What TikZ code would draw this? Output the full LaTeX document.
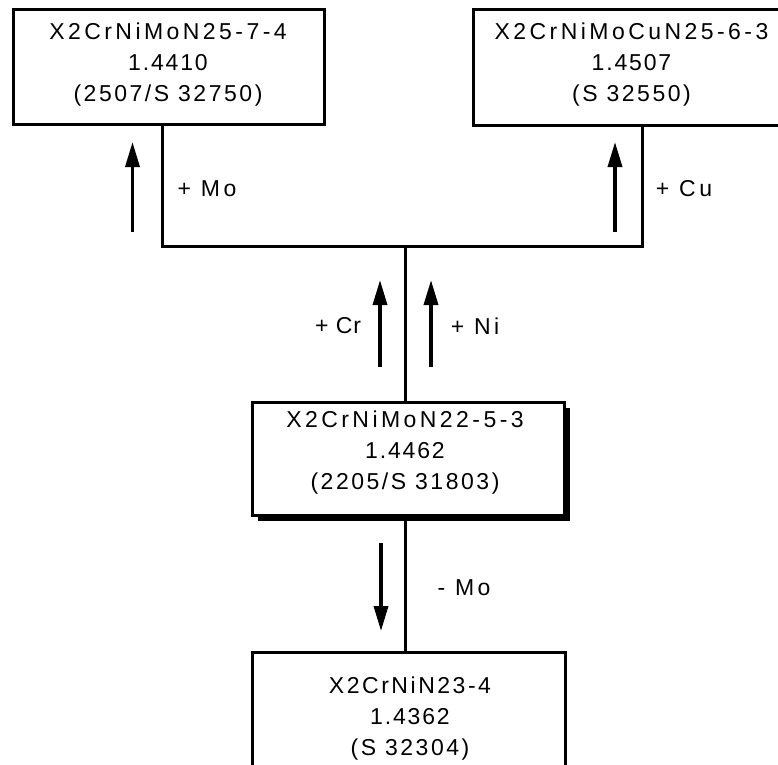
\documentclass[tikz,border=0pt]{standalone}
\usepackage{fontspec}
\setmainfont{Liberation Sans}
\usetikzlibrary{arrows.meta,shadows}
\newcommand{\lsA}{\addfontfeature{LetterSpace=15}}
\newcommand{\lsB}{\addfontfeature{LetterSpace=11}}
\newcommand{\lsC}{\addfontfeature{LetterSpace=8}}
\begin{document}
\begin{tikzpicture}[x=1pt,y=-1pt,
  box/.style={draw, fill=white, line width=3pt, inner sep=0pt},
  boxtext/.style={font=\fontsize{23}{31}\selectfont, align=center, inner sep=0pt},
  lab/.style={font=\fontsize{23}{27}\selectfont\addfontfeature{LetterSpace=15}, inner sep=0pt},
  labnarrow/.style={font=\fontsize{23}{27}\selectfont\addfontfeature{LetterSpace=4}, inner sep=0pt},
  conn/.style={line width=3pt},
  arr/.style={line width=3.5pt, -{Triangle[length=25pt,width=14pt]}},
  shadowed/.style={drop shadow={shadow xshift=6pt, shadow yshift=-6pt, fill=black, opacity=1}}
]
\useasboundingbox (0,0) rectangle (778,764);

% boxes
\node[box, minimum width=311pt, minimum height=115pt] (b1) at (168.5,66.5) {};
\node[box, minimum width=317pt, minimum height=116pt] (b2) at (631.5,67) {};
\node[box, shadowed, minimum width=312pt, minimum height=113pt] (b3) at (408,458.5) {};
\node[box, minimum width=313pt, minimum height=134pt] (b4) at (408.5,719) {};

% box texts
\node[boxtext] (t1) at (168,64.2) {{\lsA X2CrNiMoN25-7-4}\\{\lsC 1.4410}\\{\lsB (2507/S 32750)}};
\node[boxtext] (t2) at (631.5,64.5) {{\lsA X2CrNiMoCuN25-6-3}\\{\lsC 1.4507}\\{\lsB (S 32550)}};
\node[boxtext] (t3) at (405,452.2) {{\lsA X2CrNiMoN22-5-3}\\{\lsC 1.4462}\\{\lsB (2205/S 31803)}};
\node[boxtext] (t4) at (410,718.2) {{\lsB X2CrNiN23-4}\\{\lsC 1.4362}\\{\lsB (S 32304)}};

% connectors
\coordinate (jl) at (162,246);
\coordinate (jr) at (642,246);
\coordinate (jc) at (405,246);
\draw[conn] (b1.south -| jl) -- (jl) -- (jr) -- (b2.south -| jr);
\draw[conn] (jc) -- (b3.north -| jc);
\draw[conn] (b3.south -| jc) -- (b4.north -| jc);

% arrows
\coordinate (amo0) at (132.5,232); \coordinate (amo1) at (132.5,142);
\coordinate (acu0) at (615,232); \coordinate (acu1) at (615,142);
\coordinate (acr0) at (380,367); \coordinate (acr1) at (380,280);
\coordinate (ani0) at (431,367); \coordinate (ani1) at (431,280);
\coordinate (amm0) at (381,543); \coordinate (amm1) at (381,631);
\draw[arr] (amo0) -- (amo1);
\draw[arr] (acu0) -- (acu1);
\draw[arr] (acr0) -- (acr1);
\draw[arr] (ani0) -- (ani1);
\draw[arr] (amm0) -- (amm1);

% labels
\node[lab] (lmo) at (207,189) {+ Mo};
\node[lab] (lcu) at (684,189) {+ Cu};
\node[labnarrow] (lcr) at (338,326) {+ Cr};
\node[lab] (lni) at (475,326) {+ Ni};
\node[lab] (lmm) at (464,588) {- Mo};
\end{tikzpicture}
\end{document}
